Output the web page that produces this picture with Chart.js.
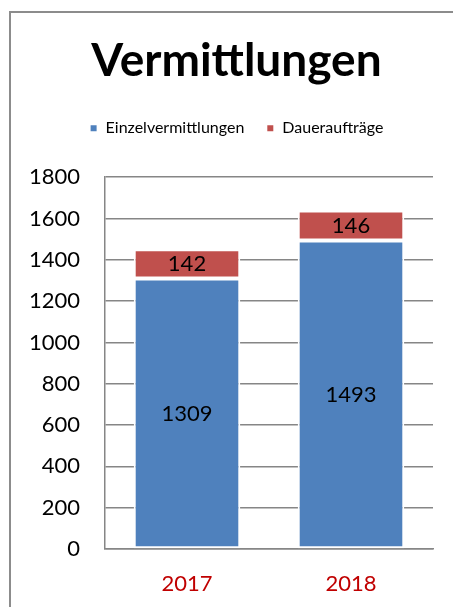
<!DOCTYPE html>
<html>
<head>
<meta charset="utf-8">
<script src="https://cdn.jsdelivr.net/npm/chart.js@4/dist/chart.umd.min.js"></script>
<style>
  body { margin: 0; background: #fff; }
  #wrap { position: relative; width: 453px; height: 607px; overflow: hidden; }
  #frame { position: absolute; left: 9px; top: 11px; width: 600px; height: 700px;
           border-left: 2px solid #8c8c8c; border-top: 2px solid #8c8c8c; }
  canvas { position: absolute; left: 0; top: 0; }
</style>
</head>
<body>
<div id="wrap">
  <div id="frame"></div>
  <canvas id="myChart" width="453" height="607"></canvas>
</div>
<script>
const years = ['2017', '2018']
const einzel = [1309, 1493]
const dauer = [142, 146]
const yTicks = [0, 200, 400, 600, 800, 1000, 1200, 1400, 1600, 1800]

const FONT = 'Lato, "Open Sans", sans-serif'

// draws the value in the middle of each bar segment
const barLabels = {
	id: 'barLabels',
	afterDatasetsDraw(chart) {
		const c = chart.ctx
		c.save()
		c.font = '22px ' + FONT
		c.fillStyle = '#000'
		c.textAlign = 'center'
		c.textBaseline = 'middle'
		chart.data.datasets.forEach((ds, i) => {
			chart.getDatasetMeta(i).data.forEach((bar, j) => {
				const mid = (bar.y + bar.base) / 2
				c.fillText(ds.data[j], bar.x, mid)
			})
		})
		c.restore()
	}
}

// more room under the legend
const legendGap = {
	id: 'legendGap',
	beforeInit(chart) {
		const fit = chart.legend.fit
		chart.legend.fit = function () {
			fit.bind(chart.legend)()
			this.height += 31
		}
	}
}

const ctx = document.getElementById('myChart')
const myChart = new Chart(ctx, {
	type: 'bar',
	data: {
		labels: years,
		datasets: [
			{
				label: 'Einzelvermittlungen',
				data: einzel,
				backgroundColor: '#4F81BD',
				borderColor: '#ffffff',
				borderWidth: 2,
				borderSkipped: false,
			},
			{
				label: 'Daueraufträge',
				data: dauer,
				backgroundColor: '#C0504D',
				borderColor: '#ffffff',
				borderWidth: 2,
				borderSkipped: false,
			},
		],
	},
	options: {
		responsive: false,
		animation: false,
		layout: { padding: { left: 20, right: 0, top: 0, bottom: 0 } },
		datasets: { bar: { categoryPercentage: 1, barPercentage: 0.65 } },
		plugins: {
			title: {
				display: true,
				text: 'Vermittlungen',
				color: '#000',
				font: { family: FONT, size: 46, weight: 'bold' },
				padding: { top: 34, bottom: 9 },
			},
			legend: {
				display: true,
				position: 'top',
				labels: {
					color: '#000',
					font: { family: FONT, size: 16 },
					usePointStyle: true,
					pointStyle: 'rect',
					boxWidth: 8,
					boxHeight: 8,
					padding: 22,
				},
			},
			tooltip: { enabled: false },
		},
		scales: {
			x: {
				stacked: true,
				grid: { display: false, drawTicks: false },
				border: { display: true, color: '#868686', width: 1.5 },
				ticks: { color: '#C00000', font: { family: FONT, size: 22 }, padding: 22 },
				afterFit(scale) { scale.height = 58 },
			},
			y: {
				stacked: true,
				min: 0,
				max: 1800,
				afterBuildTicks(scale) { scale.ticks = yTicks.map(v => ({ value: v })) },
				grid: { color: '#868686', lineWidth: 1.5, drawTicks: false },
				border: { display: true, color: '#868686', width: 1.5 },
				ticks: { color: '#000', font: { family: FONT, size: 22 }, padding: 25, callback: v => String(v) },
				afterFit(scale) { scale.width = 85 },
			},
			// empty axis on the right, only keeps the plot away from the edge
			yRight: {
				position: 'right',
				min: 0,
				max: 1800,
				grid: { display: false, drawTicks: false },
				border: { display: false },
				ticks: { display: false },
				afterFit(scale) { scale.width = 20 },
			},
		},
	},
	plugins: [barLabels, legendGap],
})
</script>
</body>
</html>
